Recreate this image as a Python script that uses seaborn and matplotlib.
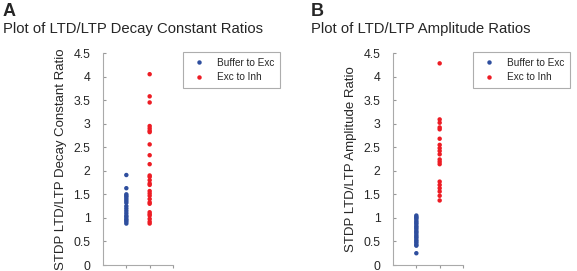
import pandas as pd
import numpy as np
import matplotlib
matplotlib.use("Agg")
import matplotlib.pyplot as plt
import seaborn as sns

groups = ["Buffer to Exc", "Exc to Inh"]
colors = {"Buffer to Exc": "#2E4E9E", "Exc to Inh": "#ED1C24"}

# panel A: decay constant ratios
decay_buffer = [1.91, 1.63, 1.50, 1.47, 1.44, 1.40, 1.36, 1.32, 1.25, 1.20,
                1.15, 1.10, 1.05, 1.02, 0.98, 0.95, 0.92, 0.88]
decay_exc = [4.05, 3.58, 3.45, 2.95, 2.90, 2.85, 2.82, 2.56, 2.33, 2.14,
             1.90, 1.87, 1.80, 1.73, 1.70, 1.57, 1.52, 1.47, 1.40, 1.33,
             1.30, 1.12, 1.08, 1.05, 0.98, 0.92, 0.88]

# panel B: amplitude ratios
amp_buffer = [1.05, 1.02, 1.00, 0.97, 0.93, 0.90, 0.87, 0.83, 0.80, 0.77,
              0.73, 0.70, 0.67, 0.63, 0.60, 0.57, 0.53, 0.50, 0.47, 0.43,
              0.41, 0.25]
amp_exc = [4.28, 3.09, 3.02, 2.92, 2.88, 2.68, 2.55, 2.48, 2.42, 2.35,
           2.24, 2.19, 2.14, 1.77, 1.70, 1.63, 1.56, 1.47, 1.37]

def make_df(a, b):
    return pd.DataFrame({
        "group": [groups[0]] * len(a) + [groups[1]] * len(b),
        "value": a + b,
    })

sns.set_style("white")
plt.rcParams["font.family"] = ["Liberation Sans", "DejaVu Sans"]

fig = plt.figure(figsize=(5.77, 2.71), dpi=100)
ax_a = fig.add_axes([103 / 577, 6 / 271, 70 / 577, 212 / 271])
ax_b = fig.add_axes([393 / 577, 6 / 271, 70 / 577, 212 / 271])

panels = [
    (ax_a, make_df(decay_buffer, decay_exc), "A",
     "Plot of LTD/LTP Decay Constant Ratios", "STDP LTD/LTP Decay Constant Ratio", 3),
    (ax_b, make_df(amp_buffer, amp_exc), "B",
     "Plot of LTD/LTP Amplitude Ratios", "STDP LTD/LTP Amplitude Ratio", 311),
]

for ax, df, letter, title, ylabel, xpix in panels:
    sns.stripplot(data=df, x="group", y="value", hue="group", palette=colors,
                  jitter=False, size=3.2, linewidth=0, ax=ax, legend=True)
    ax.set_xlim(-1, 2)
    ax.set_ylim(0, 4.5)
    ax.set_yticks(np.arange(0, 4.51, 0.5))
    ax.set_yticklabels(["0", "0.5", "1", "1.5", "2", "2.5", "3", "3.5", "4", "4.5"])
    ax.set_xticks([0, 1, 2])
    ax.set_xticklabels([])
    ax.set_xlabel("")
    ax.set_ylabel(ylabel, fontsize=9.5, labelpad=5)
    ax.tick_params(axis="y", direction="in", length=2, pad=9, labelsize=8.8,
                   color="#999999", left=True)
    ax.tick_params(axis="x", direction="out", length=2, color="#999999", bottom=True)
    for side in ["top", "right"]:
        ax.spines[side].set_visible(False)
    for side in ["left", "bottom"]:
        ax.spines[side].set_color("#AAAAAA")
        ax.spines[side].set_linewidth(0.8)
    leg = ax.legend(loc="upper left", bbox_to_anchor=(80 / 70, 1.005), fontsize=7.2,
                    frameon=True, fancybox=False, handletextpad=0.9,
                    borderpad=0.6, labelspacing=0.45, handlelength=1.9,
                    borderaxespad=0, markerscale=1.0)
    leg.get_frame().set_edgecolor("#999999")
    leg.get_frame().set_linewidth(0.8)
    fig.text(xpix / 577, 1 - 12 / 271, letter, fontsize=13, fontweight="bold",
             va="center", ha="left")
    fig.text(xpix / 577, 1 - 29 / 271, title, fontsize=10.7, va="center", ha="left")

fig.savefig("out.png", dpi=100)
